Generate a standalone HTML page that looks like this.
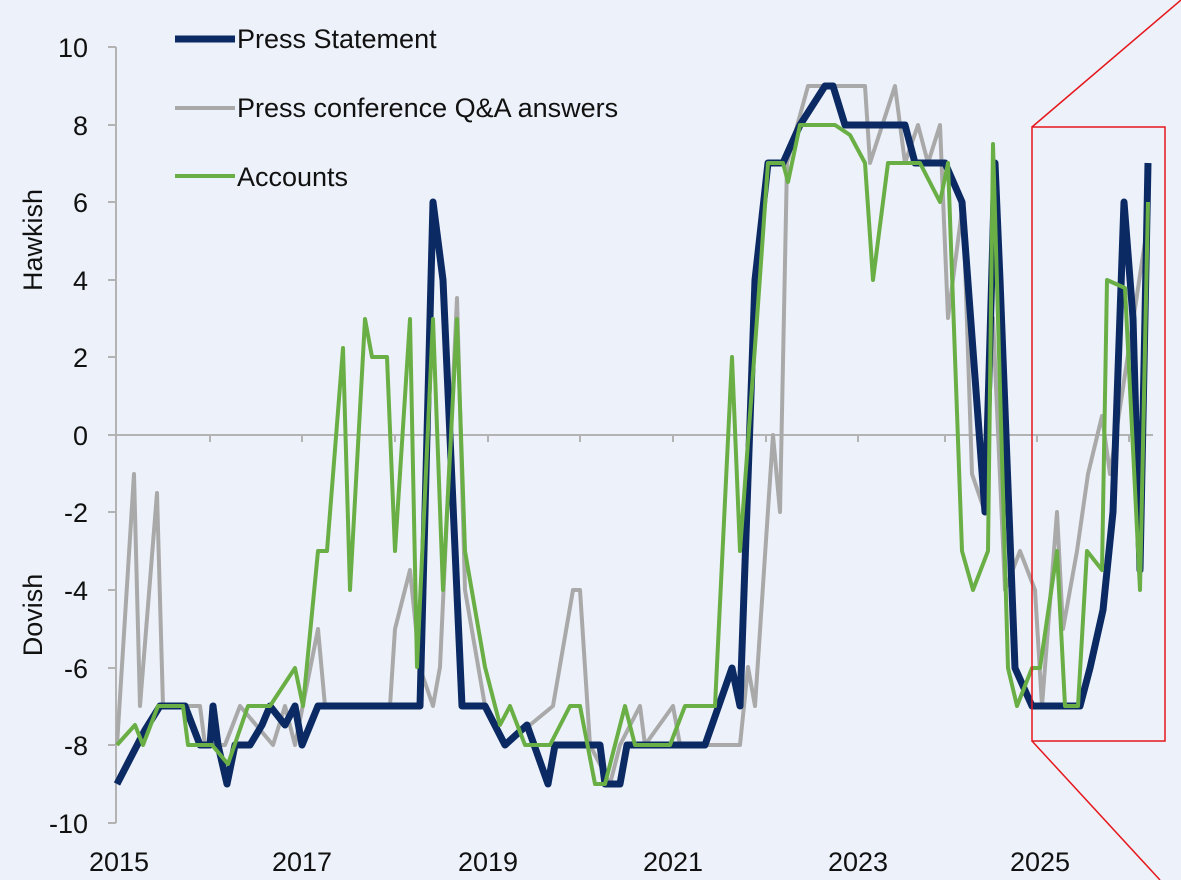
<!DOCTYPE html>
<html><head><style>
html,body{margin:0;padding:0;background:#edf1f9;}
svg{display:block;font-family:"Liberation Sans",sans-serif;}
</style></head><body>
<svg width="1181" height="880" viewBox="0 0 1181 880" xmlns="http://www.w3.org/2000/svg">
<rect width="1181" height="880" fill="#edf1f9"/>
<g stroke="#b3b3b3" stroke-width="2" fill="none">
<line x1="116" y1="47" x2="116" y2="823"/>
<line x1="116" y1="435" x2="1153" y2="435"/>
<path d="M108 47H116M108 125H116M108 202H116M108 280H116M108 357H116M108 435H116M108 512H116M108 590H116M108 668H116M108 745H116M108 823H116"/>
<path d="M210 435V442M302 435V442M395 435V442M488 435V442M580 435V442M673 435V442M766 435V442M858 435V442M945 435V442M1037 435V442M1129 435V442"/>
</g>
<g font-size="27" fill="#111" text-anchor="end">
<text x="88" y="57">10</text><text x="88" y="135">8</text><text x="88" y="212">6</text><text x="88" y="290">4</text><text x="88" y="367">2</text><text x="88" y="445">0</text><text x="88" y="522">-2</text><text x="88" y="600">-4</text><text x="88" y="678">-6</text><text x="88" y="755">-8</text><text x="88" y="833">-10</text>
</g>
<g font-size="27" fill="#111" text-anchor="middle">
<text x="119" y="871">2015</text><text x="302" y="871">2017</text><text x="488" y="871">2019</text><text x="673" y="871">2021</text><text x="858" y="871">2023</text><text x="1040" y="871">2025</text>
</g>
<text transform="translate(42,240) rotate(-90)" font-size="27" fill="#111" text-anchor="middle">Hawkish</text>
<text transform="translate(42,615) rotate(-90)" font-size="27" fill="#111" text-anchor="middle">Dovish</text>
<polyline fill="none" stroke="#a9a9a9" stroke-width="4" stroke-linejoin="round" points="117,745 134,474 140,706 157,493 163,706 200,706 205,745 225,745 240,706 273,745 285,706 295,745 318,629 325,706 390,706 395,629 410,570 420,668 433,706 440,667 457,298 465,590 485,706 505,745 530,725 553,706 573,590 580,590 590,745 610,784 620,745 640,706 645,745 673,706 680,745 705,745 740,745 748,667 755,706 773,435 780,512 787,163 808,86 865,86 870,163 895,86 905,163 918,125 928,163 940,125 948,318 963,202 972,474 985,512 993,318 1005,590 1020,551 1035,590 1042,706 1057,512 1063,629 1077,551 1088,474 1102,416 1110,474 1148,222"/>
<polyline fill="none" stroke="#0b2a63" stroke-width="7" stroke-linejoin="round" points="117,784 145,730 160,706 185,706 200,745 210,745 213,706 218,745 227,784 235,745 250,745 262,725 270,706 285,725 295,706 302,745 318,706 420,706 433,202 443,280 462,706 485,706 505,745 527,725 548,784 555,745 600,745 605,784 620,784 627,745 705,745 732,668 740,706 755,280 768,163 783,163 800,125 825,86 833,86 845,125 905,125 915,163 945,163 962,202 985,512 995,163 1000,280 1015,668 1032,706 1080,706 1090,668 1103,610 1113,512 1124,202 1133,318 1140,570 1148,163"/>
<polyline fill="none" stroke="#6aaf45" stroke-width="4" stroke-linejoin="round" points="117,745 135,725 143,745 158,706 183,706 188,745 212,745 228,764 248,706 270,706 295,668 303,706 318,551 327,551 343,348 350,590 365,319 372,357 387,357 395,551 410,319 417,667 433,319 443,590 457,319 465,551 485,667 500,725 510,706 525,745 550,745 570,706 580,706 595,784 605,784 625,706 635,745 670,745 685,706 715,706 732,357 740,551 757,319 768,163 783,163 788,182 800,125 835,125 850,135 865,163 873,280 888,163 920,163 940,202 948,163 962,551 973,590 988,551 993,144 1008,668 1017,706 1032,668 1040,668 1057,551 1065,706 1078,706 1087,551 1102,570 1107,280 1125,288 1140,590 1148,202"/>
<g stroke="#e5171c" stroke-width="1.5" fill="none">
<rect x="1032" y="127" width="133" height="614"/>
<line x1="1032" y1="127" x2="1181" y2="0"/>
<line x1="1032" y1="741" x2="1160" y2="880"/>
</g>
<line x1="175" y1="39" x2="235" y2="39" stroke="#0b2a63" stroke-width="7"/>
<line x1="175" y1="108" x2="235" y2="108" stroke="#a9a9a9" stroke-width="4"/>
<line x1="175" y1="176" x2="235" y2="176" stroke="#6aaf45" stroke-width="4"/>
<g font-size="27" fill="#111">
<text x="237" y="48">Press Statement</text>
<text x="237" y="117">Press conference Q&amp;A answers</text>
<text x="237" y="186">Accounts</text>
</g>
</svg>
</body></html>
